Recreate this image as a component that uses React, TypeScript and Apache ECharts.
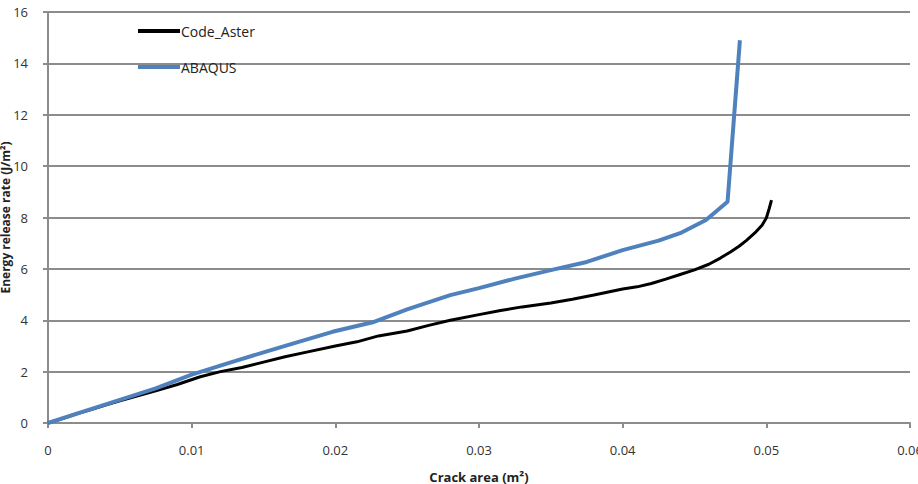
import React, { useEffect, useRef } from "react";
import * as echarts from "echarts";

// Crack area (m²) vs energy release rate for the two solvers
const asterArea = [0, 0.001, 0.002, 0.003, 0.004, 0.005, 0.006, 0.0075, 0.009, 0.0106, 0.012, 0.0135, 0.015, 0.0165, 0.018, 0.02, 0.0215, 0.023, 0.025, 0.0265, 0.028, 0.03, 0.0315, 0.033, 0.035, 0.0365, 0.038, 0.039, 0.04, 0.041, 0.042, 0.043, 0.044, 0.045, 0.046, 0.0468, 0.0475, 0.0481, 0.0486, 0.0492, 0.0497, 0.05, 0.0502, 0.05036];
const asterG = [0, 0.17, 0.36, 0.52, 0.7, 0.86, 1.02, 1.25, 1.5, 1.8, 2.0, 2.16, 2.37, 2.58, 2.76, 3.0, 3.16, 3.39, 3.58, 3.8, 4.0, 4.22, 4.38, 4.52, 4.67, 4.82, 4.98, 5.1, 5.22, 5.3, 5.43, 5.6, 5.78, 5.96, 6.18, 6.42, 6.66, 6.88, 7.1, 7.4, 7.7, 7.98, 8.35, 8.68];

const abaqusArea = [0, 0.0025, 0.005, 0.0075, 0.01, 0.0125, 0.015, 0.0175, 0.0198, 0.0226, 0.025, 0.028, 0.03, 0.0325, 0.035, 0.0375, 0.04, 0.0425, 0.044, 0.0458, 0.0473, 0.04816];
const abaqusG = [0, 0.45, 0.9, 1.35, 1.88, 2.32, 2.75, 3.17, 3.55, 3.92, 4.42, 4.98, 5.25, 5.62, 5.95, 6.27, 6.73, 7.1, 7.39, 7.9, 8.61, 14.9];

const xTicks = [0, 0.01, 0.02, 0.03, 0.04, 0.05, 0.06];
const yTicks = [0, 2, 4, 6, 8, 10, 12, 14, 16];

const FONT = "'Open Sans', 'Liberation Sans', sans-serif";

export default function App() {
  const ref = useRef<HTMLDivElement>(null);

  useEffect(() => {
    document.body.style.margin = "0";
    const chart = echarts.init(ref.current!, null, { renderer: "svg" });
    const toPairs = (xs: number[], ys: number[]) => xs.map((x, i) => [x, ys[i]]);
    chart.setOption({
      animation: false,
      backgroundColor: "#ffffff",
      textStyle: { fontFamily: FONT },
      grid: { left: 48, right: 8, top: 12, bottom: 61, containLabel: false, outerBoundsMode: "none" },
      legend: {
        orient: "vertical",
        left: 133,
        top: 19,
        itemWidth: 42,
        itemHeight: 4,
        itemGap: 22,
        icon: "rect",
        textStyle: { fontFamily: FONT, fontSize: 14, color: "#222", padding: [0, 0, 0, -4] },
        data: [
          { name: "Code_Aster", itemStyle: { color: "#000000" } },
          { name: "ABAQUS", itemStyle: { color: "#4F81BD" } },
        ],
      },
      xAxis: {
        type: "value",
        min: xTicks[0],
        max: xTicks[xTicks.length - 1],
        interval: 0.01,
        name: "Crack area (m²)",
        nameLocation: "middle",
        nameGap: 47,
        nameMoveOverlap: false,
        nameTextStyle: { fontFamily: FONT, fontSize: 13, fontWeight: "bold", color: "#222" },
        axisLine: { lineStyle: { color: "#8c8c8c", width: 2 } },
        axisTick: { show: true, length: 5, lineStyle: { color: "#8c8c8c", width: 2 } },
        axisLabel: {
          margin: 20,
          fontSize: 13,
          color: "#333",
          formatter: (v: number) => (v === 0 ? "0" : v.toFixed(2)),
        },
        splitLine: { show: false },
      },
      yAxis: {
        type: "value",
        min: yTicks[0],
        max: yTicks[yTicks.length - 1],
        interval: 2,
        name: "Energy release rate (J/m²)",
        nameLocation: "middle",
        nameRotate: 90,
        nameGap: 37,
        nameMoveOverlap: false,
        nameTextStyle: { fontFamily: FONT, fontSize: 12, fontWeight: "bold", color: "#222" },
        axisLine: { show: true, lineStyle: { color: "#8c8c8c", width: 2 } },
        axisTick: { show: true, length: 5, lineStyle: { color: "#8c8c8c", width: 2 } },
        axisLabel: { margin: 20, fontSize: 13, color: "#333" },
        splitLine: { show: true, lineStyle: { color: "#8c8c8c", width: 2 } },
      },
      series: [
        {
          name: "Code_Aster",
          type: "line",
          data: toPairs(asterArea, asterG),
          showSymbol: false,
          symbol: "none",
          lineStyle: { color: "#000000", width: 3 },
          itemStyle: { color: "#000000" },
          z: 2,
        },
        {
          name: "ABAQUS",
          type: "line",
          data: toPairs(abaqusArea, abaqusG),
          showSymbol: false,
          symbol: "none",
          lineStyle: { color: "#4F81BD", width: 4 },
          itemStyle: { color: "#4F81BD" },
          z: 3,
        },
      ],
    });
    return () => chart.dispose();
  }, []);

  return (
    <div
      ref={ref}
      style={{ position: "absolute", left: 0, top: 0, width: 918, height: 484, overflow: "hidden" }}
    />
  );
}
